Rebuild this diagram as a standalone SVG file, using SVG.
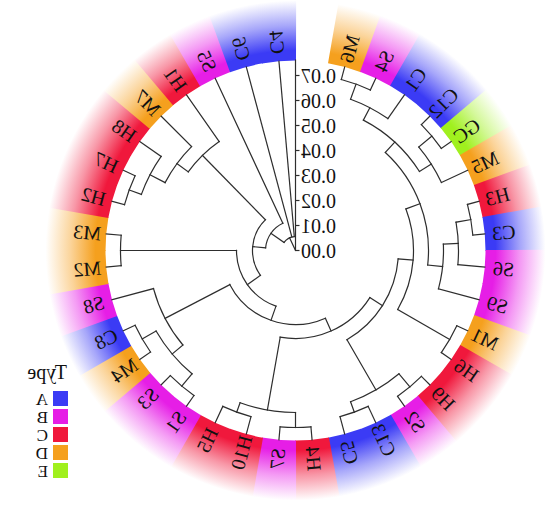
<svg xmlns="http://www.w3.org/2000/svg" width="550" height="509" viewBox="0 0 550 509">
<defs>
<style>
.br line, .br circle { fill: none; stroke: #2e2e2e; stroke-width: 1.2; stroke-linecap: square; }
.lab { font-family: "Liberation Serif", "Times New Roman", serif; font-size: 20px; fill: #111; text-anchor: middle; dominant-baseline: central; }
.ax { font-family: "Liberation Serif", "Times New Roman", serif; font-size: 20px; fill: #111; text-anchor: end; dominant-baseline: central; }
.leg { font-family: "Liberation Serif", "Times New Roman", serif; font-size: 17px; fill: #111; }
.legt { font-family: "Liberation Serif", "Times New Roman", serif; font-size: 20px; fill: #111; }
.axl { stroke: #2e2e2e; stroke-width: 1.2; fill: none; }
</style>
<radialGradient id="gA" gradientUnits="userSpaceOnUse" cx="0" cy="0" r="250">
<stop offset="0.76" stop-color="#3b3bf5"/><stop offset="0.80" stop-color="#3b3bf5"/><stop offset="0.90" stop-color="#a7a7fa"/><stop offset="1" stop-color="#ffffff"/>
</radialGradient>
<radialGradient id="gB" gradientUnits="userSpaceOnUse" cx="0" cy="0" r="250">
<stop offset="0.76" stop-color="#e61ee6"/><stop offset="0.80" stop-color="#e61ee6"/><stop offset="0.90" stop-color="#f49af4"/><stop offset="1" stop-color="#ffffff"/>
</radialGradient>
<radialGradient id="gC" gradientUnits="userSpaceOnUse" cx="0" cy="0" r="250">
<stop offset="0.76" stop-color="#f0183c"/><stop offset="0.80" stop-color="#f0183c"/><stop offset="0.90" stop-color="#f897a7"/><stop offset="1" stop-color="#ffffff"/>
</radialGradient>
<radialGradient id="gD" gradientUnits="userSpaceOnUse" cx="0" cy="0" r="250">
<stop offset="0.76" stop-color="#f5a01e"/><stop offset="0.80" stop-color="#f5a01e"/><stop offset="0.90" stop-color="#fbd49a"/><stop offset="1" stop-color="#ffffff"/>
</radialGradient>
<radialGradient id="gE" gradientUnits="userSpaceOnUse" cx="0" cy="0" r="250">
<stop offset="0.76" stop-color="#a0f01e"/><stop offset="0.80" stop-color="#a0f01e"/><stop offset="0.90" stop-color="#d4f89a"/><stop offset="1" stop-color="#ffffff"/>
</radialGradient>
<path id="seg" d="M189.233 -17.055 A190 190 0 0 1 189.233 17.055 L248.991 22.441 A250 250 0 0 0 248.991 -22.441 Z"/>
</defs>
<rect width="550" height="509" fill="#ffffff"/>
<g id="tree" transform="translate(295.5 250.5)">
<g id="leaves">
<g id="n-M6"><use href="#seg" transform="rotate(-75)" fill="url(#gD)"/><text class="lab" transform="rotate(-75) translate(209 0) scale(-1 1)">M6</text></g>
<g id="n-S4"><use href="#seg" transform="rotate(-65)" fill="url(#gB)"/><text class="lab" transform="rotate(-65) translate(209 0) scale(-1 1)">S4</text></g>
<g id="n-C1"><use href="#seg" transform="rotate(-55)" fill="url(#gA)"/><text class="lab" transform="rotate(-55) translate(209 0) scale(-1 1)">C1</text></g>
<g id="n-C12"><use href="#seg" transform="rotate(-45)" fill="url(#gA)"/><text class="lab" transform="rotate(-45) translate(209 0) scale(-1 1)">C12</text></g>
<g id="n-GC"><use href="#seg" transform="rotate(-35)" fill="url(#gE)"/><text class="lab" transform="rotate(-35) translate(209 0) scale(-1 1)">GC</text></g>
<g id="n-M5"><use href="#seg" transform="rotate(-25)" fill="url(#gD)"/><text class="lab" transform="rotate(-25) translate(209 0) scale(-1 1)">M5</text></g>
<g id="n-H3"><use href="#seg" transform="rotate(-15)" fill="url(#gC)"/><text class="lab" transform="rotate(-15) translate(209 0) scale(-1 1)">H3</text></g>
<g id="n-C3"><use href="#seg" transform="rotate(-5)" fill="url(#gA)"/><text class="lab" transform="rotate(-5) translate(209 0) scale(-1 1)">C3</text></g>
<g id="n-S6"><use href="#seg" transform="rotate(5)" fill="url(#gB)"/><text class="lab" transform="rotate(5) translate(209 0) scale(-1 1)">S6</text></g>
<g id="n-S9"><use href="#seg" transform="rotate(15)" fill="url(#gB)"/><text class="lab" transform="rotate(15) translate(209 0) scale(-1 1)">S9</text></g>
<g id="n-M1"><use href="#seg" transform="rotate(25)" fill="url(#gD)"/><text class="lab" transform="rotate(25) translate(209 0) scale(-1 1)">M1</text></g>
<g id="n-H6"><use href="#seg" transform="rotate(35)" fill="url(#gC)"/><text class="lab" transform="rotate(35) translate(209 0) scale(-1 1)">H6</text></g>
<g id="n-H9"><use href="#seg" transform="rotate(45)" fill="url(#gC)"/><text class="lab" transform="rotate(45) translate(209 0) scale(-1 1)">H9</text></g>
<g id="n-S2"><use href="#seg" transform="rotate(55)" fill="url(#gB)"/><text class="lab" transform="rotate(55) translate(209 0) scale(-1 1)">S2</text></g>
<g id="n-C13"><use href="#seg" transform="rotate(65)" fill="url(#gA)"/><text class="lab" transform="rotate(65) translate(209 0) scale(-1 1)">C13</text></g>
<g id="n-C5"><use href="#seg" transform="rotate(75)" fill="url(#gA)"/><text class="lab" transform="rotate(75) translate(209 0) scale(-1 1)">C5</text></g>
<g id="n-H4"><use href="#seg" transform="rotate(85)" fill="url(#gC)"/><text class="lab" transform="rotate(85) translate(209 0) scale(-1 1)">H4</text></g>
<g id="n-S7"><use href="#seg" transform="rotate(95)" fill="url(#gB)"/><text class="lab" transform="rotate(95) translate(209 0) scale(1 -1)">S7</text></g>
<g id="n-H10"><use href="#seg" transform="rotate(105)" fill="url(#gC)"/><text class="lab" transform="rotate(105) translate(209 0) scale(1 -1)">H10</text></g>
<g id="n-H5"><use href="#seg" transform="rotate(115)" fill="url(#gC)"/><text class="lab" transform="rotate(115) translate(209 0) scale(1 -1)">H5</text></g>
<g id="n-S1"><use href="#seg" transform="rotate(125)" fill="url(#gB)"/><text class="lab" transform="rotate(125) translate(209 0) scale(1 -1)">S1</text></g>
<g id="n-S3"><use href="#seg" transform="rotate(135)" fill="url(#gB)"/><text class="lab" transform="rotate(135) translate(209 0) scale(1 -1)">S3</text></g>
<g id="n-M4"><use href="#seg" transform="rotate(145)" fill="url(#gD)"/><text class="lab" transform="rotate(145) translate(209 0) scale(1 -1)">M4</text></g>
<g id="n-C8"><use href="#seg" transform="rotate(155)" fill="url(#gA)"/><text class="lab" transform="rotate(155) translate(209 0) scale(1 -1)">C8</text></g>
<g id="n-S8"><use href="#seg" transform="rotate(165)" fill="url(#gB)"/><text class="lab" transform="rotate(165) translate(209 0) scale(1 -1)">S8</text></g>
<g id="n-M2"><use href="#seg" transform="rotate(175)" fill="url(#gD)"/><text class="lab" transform="rotate(175) translate(209 0) scale(1 -1)">M2</text></g>
<g id="n-M3"><use href="#seg" transform="rotate(-175)" fill="url(#gD)"/><text class="lab" transform="rotate(-175) translate(209 0) scale(1 -1)">M3</text></g>
<g id="n-H2"><use href="#seg" transform="rotate(-165)" fill="url(#gC)"/><text class="lab" transform="rotate(-165) translate(209 0) scale(1 -1)">H2</text></g>
<g id="n-H7"><use href="#seg" transform="rotate(-155)" fill="url(#gC)"/><text class="lab" transform="rotate(-155) translate(209 0) scale(1 -1)">H7</text></g>
<g id="n-H8"><use href="#seg" transform="rotate(-145)" fill="url(#gC)"/><text class="lab" transform="rotate(-145) translate(209 0) scale(1 -1)">H8</text></g>
<g id="n-M7"><use href="#seg" transform="rotate(-135)" fill="url(#gD)"/><text class="lab" transform="rotate(-135) translate(209 0) scale(1 -1)">M7</text></g>
<g id="n-H1"><use href="#seg" transform="rotate(-125)" fill="url(#gC)"/><text class="lab" transform="rotate(-125) translate(209 0) scale(1 -1)">H1</text></g>
<g id="n-S5"><use href="#seg" transform="rotate(-115)" fill="url(#gB)"/><text class="lab" transform="rotate(-115) translate(209 0) scale(1 -1)">S5</text></g>
<g id="n-C6"><use href="#seg" transform="rotate(-105)" fill="url(#gA)"/><text class="lab" transform="rotate(-105) translate(209 0) scale(1 -1)">C6</text></g>
<g id="n-C4"><use href="#seg" transform="rotate(-95)" fill="url(#gA)"/><text class="lab" transform="rotate(-95) translate(209 0) scale(1 -1)">C4</text></g>
</g>
<g id="connectors" class="br">
<line x1="177" x2="190" transform="rotate(-75)"/>
<line x1="177" x2="190" transform="rotate(-65)"/>
<line x1="161" x2="190" transform="rotate(-55)"/>
<line x1="178" x2="190" transform="rotate(-45)"/>
<line x1="178" x2="190" transform="rotate(-35)"/>
<line x1="161" x2="190" transform="rotate(-25)"/>
<line x1="178" x2="190" transform="rotate(-15)"/>
<line x1="178" x2="190" transform="rotate(-5)"/>
<line x1="163" x2="190" transform="rotate(5)"/>
<line x1="148" x2="190" transform="rotate(15)"/>
<line x1="178" x2="190" transform="rotate(25)"/>
<line x1="178" x2="190" transform="rotate(35)"/>
<line x1="178" x2="190" transform="rotate(45)"/>
<line x1="178" x2="190" transform="rotate(55)"/>
<line x1="172" x2="190" transform="rotate(65)"/>
<line x1="172" x2="190" transform="rotate(75)"/>
<line x1="177" x2="190" transform="rotate(85)"/>
<line x1="177" x2="190" transform="rotate(95)"/>
<line x1="172" x2="190" transform="rotate(105)"/>
<line x1="172" x2="190" transform="rotate(115)"/>
<line x1="177" x2="190" transform="rotate(125)"/>
<line x1="177" x2="190" transform="rotate(135)"/>
<line x1="177" x2="190" transform="rotate(145)"/>
<line x1="177" x2="190" transform="rotate(155)"/>
<line x1="147" x2="190" transform="rotate(165)"/>
<line x1="175" x2="190" transform="rotate(175)"/>
<line x1="175" x2="190" transform="rotate(-175)"/>
<line x1="177" x2="190" transform="rotate(-165)"/>
<line x1="177" x2="190" transform="rotate(-155)"/>
<line x1="164" x2="190" transform="rotate(-145)"/>
<line x1="147" x2="190" transform="rotate(-135)"/>
<line x1="133" x2="190" transform="rotate(-125)"/>
<line x1="30" x2="190" transform="rotate(-115)"/>
<line x1="14" x2="190" transform="rotate(-105)"/>
<line x1="14" x2="190" transform="rotate(-95)"/>
<line x1="161" x2="177" transform="rotate(-70)"/>
<line x1="147" x2="161" transform="rotate(-62.5)"/>
<line x1="161" x2="178" transform="rotate(-40)"/>
<line x1="147" x2="161" transform="rotate(-32.5)"/>
<line x1="133" x2="147" transform="rotate(-47.5)"/>
<line x1="163" x2="178" transform="rotate(-10)"/>
<line x1="148" x2="163" transform="rotate(-2.5)"/>
<line x1="133" x2="148" transform="rotate(6.25)"/>
<line x1="118" x2="133" transform="rotate(-20.625)"/>
<line x1="118" x2="178" transform="rotate(30)"/>
<line x1="103" x2="118" transform="rotate(4.6875)"/>
<line x1="161" x2="178" transform="rotate(50)"/>
<line x1="161" x2="172" transform="rotate(70)"/>
<line x1="103" x2="161" transform="rotate(60)"/>
<line x1="88" x2="103" transform="rotate(32.34)"/>
<line x1="162" x2="177" transform="rotate(90)"/>
<line x1="162" x2="172" transform="rotate(110)"/>
<line x1="88" x2="162" transform="rotate(100)"/>
<line x1="74" x2="88" transform="rotate(66.17)"/>
<line x1="161" x2="177" transform="rotate(-210)"/>
<line x1="161" x2="177" transform="rotate(-230)"/>
<line x1="147" x2="161" transform="rotate(-220)"/>
<line x1="74" x2="147" transform="rotate(-207.5)"/>
<line x1="59" x2="74" transform="rotate(-250.67)"/>
<line x1="59" x2="175" transform="rotate(-180)"/>
<line x1="43" x2="59" transform="rotate(-215.33)"/>
<line x1="164" x2="177" transform="rotate(-160)"/>
<line x1="147" x2="164" transform="rotate(-152.5)"/>
<line x1="133" x2="147" transform="rotate(-143.75)"/>
<line x1="43" x2="133" transform="rotate(-134.375)"/>
<line x1="30" x2="43" transform="rotate(-174.85)"/>
<line x1="14" x2="30" transform="rotate(-144.93)"/>
<line x1="0" x2="14" transform="rotate(-115)"/>
<circle r="177" stroke-dasharray="30.89 2000" transform="rotate(-75)"/>
<circle r="161" stroke-dasharray="42.15 2000" transform="rotate(-70)"/>
<circle r="178" stroke-dasharray="31.07 2000" transform="rotate(-45)"/>
<circle r="161" stroke-dasharray="42.15 2000" transform="rotate(-40)"/>
<circle r="147" stroke-dasharray="76.97 2000" transform="rotate(-62.5)"/>
<circle r="178" stroke-dasharray="31.07 2000" transform="rotate(-15)"/>
<circle r="163" stroke-dasharray="42.67 2000" transform="rotate(-10)"/>
<circle r="148" stroke-dasharray="45.2 2000" transform="rotate(-2.5)"/>
<circle r="133" stroke-dasharray="124.77 2000" transform="rotate(-47.5)"/>
<circle r="178" stroke-dasharray="31.07 2000" transform="rotate(25)"/>
<circle r="118" stroke-dasharray="104.26 2000" transform="rotate(-20.625)"/>
<circle r="178" stroke-dasharray="31.07 2000" transform="rotate(45)"/>
<circle r="172" stroke-dasharray="30.02 2000" transform="rotate(65)"/>
<circle r="161" stroke-dasharray="56.2 2000" transform="rotate(50)"/>
<circle r="103" stroke-dasharray="99.43 2000" transform="rotate(4.6875)"/>
<circle r="177" stroke-dasharray="30.89 2000" transform="rotate(85)"/>
<circle r="172" stroke-dasharray="30.02 2000" transform="rotate(105)"/>
<circle r="162" stroke-dasharray="56.55 2000" transform="rotate(90)"/>
<circle r="88" stroke-dasharray="103.92 2000" transform="rotate(32.34)"/>
<circle r="177" stroke-dasharray="30.89 2000" transform="rotate(-215)"/>
<circle r="177" stroke-dasharray="30.89 2000" transform="rotate(-235)"/>
<circle r="161" stroke-dasharray="56.2 2000" transform="rotate(-230)"/>
<circle r="147" stroke-dasharray="64.14 2000" transform="rotate(-220)"/>
<circle r="74" stroke-dasharray="111.5 2000" transform="rotate(-293.83)"/>
<circle r="175" stroke-dasharray="30.54 2000" transform="rotate(-185)"/>
<circle r="59" stroke-dasharray="72.77 2000" transform="rotate(-250.67)"/>
<circle r="177" stroke-dasharray="30.89 2000" transform="rotate(-165)"/>
<circle r="164" stroke-dasharray="42.94 2000" transform="rotate(-160)"/>
<circle r="147" stroke-dasharray="44.9 2000" transform="rotate(-152.5)"/>
<circle r="133" stroke-dasharray="43.52 2000" transform="rotate(-143.75)"/>
<circle r="43" stroke-dasharray="60.76 2000" transform="rotate(-215.33)"/>
<circle r="30" stroke-dasharray="31.34 2000" transform="rotate(-174.85)"/>
<circle r="14" stroke-dasharray="12.2 2000" transform="rotate(-144.93)"/>
</g>
</g>
<g id="axis">
<line class="axl" x1="295.5" y1="250.5" x2="295.5" y2="59.5"/>
<line class="axl" x1="295.5" y1="250.5" x2="299.5" y2="250.5"/>
<line class="axl" x1="295.5" y1="225.5" x2="299.5" y2="225.5"/>
<line class="axl" x1="295.5" y1="200.5" x2="299.5" y2="200.5"/>
<line class="axl" x1="295.5" y1="175.5" x2="299.5" y2="175.5"/>
<line class="axl" x1="295.5" y1="150.5" x2="299.5" y2="150.5"/>
<line class="axl" x1="295.5" y1="125.5" x2="299.5" y2="125.5"/>
<line class="axl" x1="295.5" y1="100.5" x2="299.5" y2="100.5"/>
<line class="axl" x1="295.5" y1="75.5" x2="299.5" y2="75.5"/>
<text class="ax" transform="translate(301 250.5) scale(-1 1)">0.00</text>
<text class="ax" transform="translate(301 225.5) scale(-1 1)">0.01</text>
<text class="ax" transform="translate(301 200.5) scale(-1 1)">0.02</text>
<text class="ax" transform="translate(301 175.5) scale(-1 1)">0.03</text>
<text class="ax" transform="translate(301 150.5) scale(-1 1)">0.04</text>
<text class="ax" transform="translate(301 125.5) scale(-1 1)">0.05</text>
<text class="ax" transform="translate(301 100.5) scale(-1 1)">0.06</text>
<text class="ax" transform="translate(301 75.5) scale(-1 1)">0.07</text>
</g>
<g id="legend">
<text class="legt" transform="translate(67 379) scale(-1 1)">Type</text>
<rect x="53" y="391" width="15" height="15" fill="#3b3bf5"/>
<rect x="53" y="409" width="15" height="15" fill="#e61ee6"/>
<rect x="53" y="427" width="15" height="15" fill="#f0183c"/>
<rect x="53" y="445" width="15" height="15" fill="#f5a01e"/>
<rect x="53" y="463" width="15" height="15" fill="#a0f01e"/>
<text class="leg" transform="translate(48 404.5) scale(-1 1)">A</text>
<text class="leg" transform="translate(48 422.5) scale(-1 1)">B</text>
<text class="leg" transform="translate(48 440.5) scale(-1 1)">C</text>
<text class="leg" transform="translate(48 458.5) scale(-1 1)">D</text>
<text class="leg" transform="translate(48 476.5) scale(-1 1)">E</text>
</g>
</svg>
